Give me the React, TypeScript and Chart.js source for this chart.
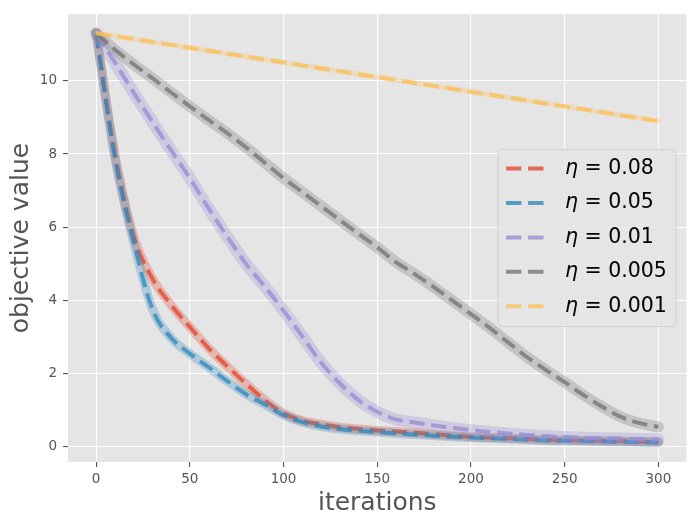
import { useEffect, useRef } from "react";
import { Chart, registerables } from "chart.js";

Chart.register(...registerables);

// iterations sampled every 10 steps
const iterations = [
  0, 10, 20, 30, 40, 50, 60, 70, 80, 90, 100, 110, 120, 130, 140, 150, 160,
  170, 180, 190, 200, 210, 220, 230, 240, 250, 260, 270, 280, 290, 300,
];

const eta008 = [
  11.3, 8.0, 5.75, 4.6, 3.88, 3.28, 2.7, 2.2, 1.73, 1.28, 0.92, 0.72, 0.62,
  0.54, 0.49, 0.45, 0.42, 0.39, 0.35, 0.31, 0.28, 0.26, 0.24, 0.22, 0.2, 0.19,
  0.18, 0.17, 0.16, 0.15, 0.14,
];
const eta005 = [
  11.3, 7.9, 5.6, 3.77, 2.98, 2.55, 2.18, 1.8, 1.44, 1.16, 0.87, 0.68, 0.56,
  0.49, 0.44, 0.41, 0.37, 0.34, 0.31, 0.28, 0.26, 0.24, 0.22, 0.2, 0.18, 0.17,
  0.16, 0.15, 0.14, 0.13, 0.12,
];
const eta001 = [
  11.3, 10.5, 9.68, 8.88, 8.1, 7.34, 6.52, 5.74, 5.0, 4.38, 3.72, 3.02, 2.31,
  1.74, 1.28, 0.96, 0.75, 0.67, 0.59, 0.52, 0.46, 0.41, 0.37, 0.33, 0.3, 0.27,
  0.25, 0.24, 0.23, 0.22, 0.21,
];
const eta0005 = [
  11.3, 10.85, 10.45, 10.07, 9.68, 9.3, 8.93, 8.57, 8.18, 7.76, 7.34, 6.96,
  6.58, 6.2, 5.82, 5.45, 5.05, 4.72, 4.37, 4.0, 3.63, 3.25, 2.85, 2.45, 2.1,
  1.77, 1.42, 1.1, 0.82, 0.65, 0.55,
];
const eta0001 = [
  11.3, 11.22, 11.14, 11.06, 10.98, 10.9, 10.82, 10.74, 10.66, 10.58, 10.5,
  10.42, 10.34, 10.26, 10.18, 10.1, 10.02, 9.94, 9.86, 9.78, 9.7, 9.62, 9.54,
  9.46, 9.38, 9.3, 9.22, 9.14, 9.06, 8.98, 8.9,
];

const seriesLabels = ["0.08", "0.05", "0.01", "0.005", "0.001"];
const seriesValues = [eta008, eta005, eta001, eta0005, eta0001];

const xTicks = [0, 50, 100, 150, 200, 250, 300];
const yTicks = [0, 2, 4, 6, 8, 10];

// ggplot colour cycle
const colors = ["#E24A33", "#348ABD", "#988ED5", "#777777", "#FBC15E"];
const bandWidths = [9, 9, 12, 11, 5];

const rgba = (hex: string, a: number) => {
  const n = parseInt(hex.slice(1), 16);
  return `rgba(${(n >> 16) & 255}, ${(n >> 8) & 255}, ${n & 255}, ${a})`;
};

const FONT = "'DejaVu Sans', sans-serif";
const DASH = [15.4, 6.7];

const backgroundPlugin = {
  id: "axesBackground",
  beforeDraw(chart: any) {
    const { ctx, chartArea } = chart;
    ctx.save();
    ctx.fillStyle = "#E5E5E5";
    ctx.fillRect(
      chartArea.left,
      chartArea.top,
      chartArea.right - chartArea.left,
      chartArea.bottom - chartArea.top
    );
    ctx.restore();
  },
};

const legendPlugin = {
  id: "insideLegend",
  afterDraw(chart: any) {
    const { ctx, chartArea } = chart;
    const w = 178;
    const h = 177;
    const x0 = chartArea.right - 10.5 - w;
    const y0 = chartArea.top + 135.5;
    ctx.save();
    ctx.beginPath();
    ctx.roundRect(x0, y0, w, h, 4);
    ctx.fillStyle = "rgba(229, 229, 229, 0.8)";
    ctx.fill();
    ctx.strokeStyle = "rgba(204, 204, 204, 0.8)";
    ctx.lineWidth = 1;
    ctx.stroke();

    seriesLabels.forEach((label, i) => {
      const y = y0 + 19 + i * 34.4;
      ctx.setLineDash(DASH);
      ctx.lineWidth = 4;
      ctx.strokeStyle = rgba(colors[i], 0.8);
      ctx.beginPath();
      ctx.moveTo(x0 + 8, y);
      ctx.lineTo(x0 + 49, y);
      ctx.stroke();
      ctx.setLineDash([]);

      ctx.fillStyle = "#000000";
      ctx.textBaseline = "middle";
      ctx.textAlign = "left";
      ctx.font = `italic 20.5px ${FONT}`;
      ctx.fillText("η", x0 + 67, y);
      const etaW = ctx.measureText("η").width;
      ctx.font = `20.5px ${FONT}`;
      ctx.fillText(" = " + label, x0 + 67 + etaW, y);
    });
    ctx.restore();
  },
};

const App = () => {
  const canvasRef = useRef<HTMLCanvasElement | null>(null);
  const chartRef = useRef<Chart | null>(null);

  useEffect(() => {
    if (!canvasRef.current) return;
    if (chartRef.current) chartRef.current.destroy();

    const datasets: any[] = [];
    seriesValues.forEach((values, i) => {
      const pts = iterations.map((x, k) => ({ x, y: values[k] }));
      // shaded band first, dashed mean line on top
      datasets.push({
        label: "band " + seriesLabels[i],
        data: pts,
        borderColor: rgba(colors[i], 0.3),
        borderWidth: bandWidths[i],
        pointRadius: 0,
        cubicInterpolationMode: "monotone",
        borderCapStyle: "round",
        borderJoinStyle: "round",
        order: 2 * (4 - i) + 1,
      });
      datasets.push({
        label: "η = " + seriesLabels[i],
        data: pts,
        borderColor: rgba(colors[i], 0.8),
        borderWidth: 4,
        borderDash: DASH,
        pointRadius: 0,
        cubicInterpolationMode: "monotone",
        order: 2 * (4 - i),
      });
    });

    chartRef.current = new Chart(canvasRef.current, {
      type: "line",
      data: { datasets },
      plugins: [backgroundPlugin, legendPlugin],
      options: {
        animation: false,
        responsive: false,
        devicePixelRatio: 1,
        font: { family: FONT },
        layout: { padding: { top: 11.5, right: 9.5, left: 0, bottom: 0 } },
        plugins: {
          legend: { display: false },
          tooltip: { enabled: false },
          title: { display: false },
        },
        scales: {
          x: {
            type: "linear",
            min: -15,
            max: 315,
            afterBuildTicks: (s: any) => {
              s.ticks = xTicks.map((v) => ({ value: v }));
            },
            afterFit: (s: any) => {
              s.height = 64;
            },
            grid: {
              color: "#FFFFFF",
              lineWidth: 1.1,
              tickColor: "#555555",
              tickLength: 5,
            },
            border: { display: false },
            ticks: {
              color: "#555555",
              font: { family: FONT, size: 13.5 },
              padding: 4,
              maxRotation: 0,
            },
            title: {
              display: true,
              text: "iterations",
              color: "#555555",
              font: { family: FONT, size: 25 },
              padding: { top: 0, bottom: 8 },
            },
          },
          y: {
            type: "linear",
            min: -0.41,
            max: 11.82,
            afterBuildTicks: (s: any) => {
              s.ticks = yTicks.map((v) => ({ value: v }));
            },
            afterFit: (s: any) => {
              s.width = 68;
            },
            grid: {
              color: "#FFFFFF",
              lineWidth: 1.1,
              tickColor: "#555555",
              tickLength: 5,
            },
            border: { display: false },
            ticks: {
              color: "#555555",
              font: { family: FONT, size: 13.5 },
              padding: 6,
            },
            title: {
              display: true,
              text: "objective value",
              color: "#555555",
              font: { family: FONT, size: 25 },
              padding: { top: 6, bottom: 0 },
            },
          },
        },
      } as any,
    });

    return () => {
      if (chartRef.current) {
        chartRef.current.destroy();
        chartRef.current = null;
      }
    };
  }, []);

  return (
    <div
      style={{
        position: "fixed",
        left: 0,
        top: 0,
        width: "696px",
        height: "526px",
        background: "#FFFFFF",
      }}
    >
      <canvas
        ref={canvasRef}
        width={696}
        height={526}
        style={{ width: "696px", height: "526px" }}
      />
    </div>
  );
};

export default App;
